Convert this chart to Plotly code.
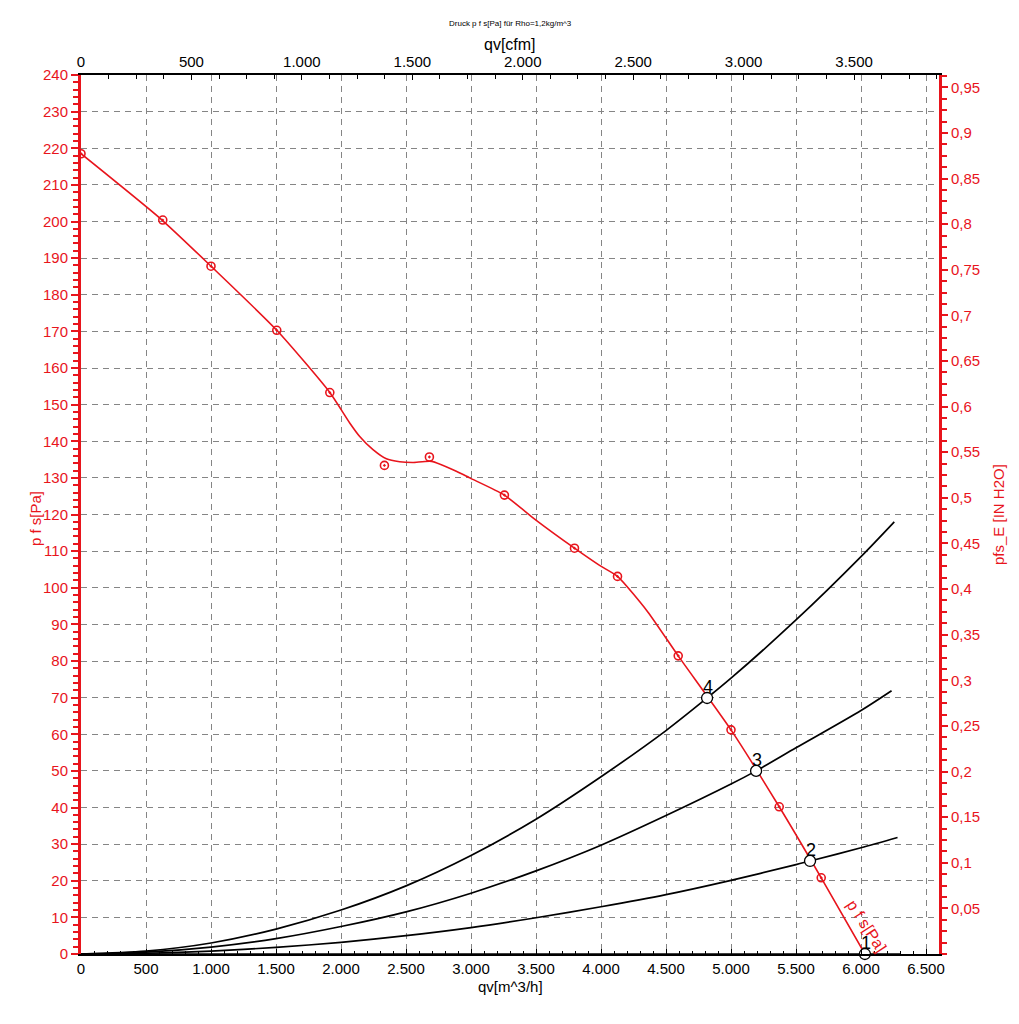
import plotly.graph_objects as go

# ---------------- data ----------------
# fan characteristic p_fs [Pa] vs qv [m^3/h] (line)
curve_q = [0, 623, 1000, 1506, 1914, 2067, 2144, 2246, 2349, 2451, 2550, 2697, 2887, 2990, 3257, 3502, 3796, 3989, 4127, 4360, 4594, 5000, 5371, 5694, 6030]
curve_p = [218.5, 200.4, 187.8, 170.3, 153.3, 145.0, 141.3, 137.7, 135.2, 134.4, 134.2, 134.5, 131.8, 130.0, 125.3, 118.4, 110.8, 106.1, 103.1, 93.4, 81.4, 61.2, 40.2, 20.8, 0.0]

# measured points on the fan curve
meas_q = [0, 629, 1000, 1506, 1914, 2334, 2680, 3257, 3796, 4127, 4594, 5000, 5371, 5694]
meas_p = [218.5, 200.4, 187.8, 170.3, 153.3, 133.4, 135.7, 125.3, 110.8, 103.1, 81.4, 61.2, 40.2, 20.8]

# system curves (black)
sys4_q = [0, 500, 1000, 1500, 2000, 2500, 3000, 3500, 4000, 4500, 4816, 5000, 5500, 6000, 6256]
sys4_p = [0, 0.8, 3.0, 6.8, 12.0, 18.6, 26.9, 36.8, 48.4, 61.0, 69.9, 75.3, 91.2, 108.5, 118.0]
sys3_q = [0, 500, 1000, 1500, 2000, 2500, 3000, 3500, 4000, 4500, 5000, 5193, 5500, 6000, 6235]
sys3_p = [0, 0.5, 1.9, 4.2, 7.5, 11.5, 16.6, 22.7, 29.7, 37.8, 46.4, 50.0, 56.3, 66.5, 71.9]
sys2_q = [0, 500, 1000, 1500, 2000, 2500, 3000, 3500, 4000, 4500, 5000, 5500, 5608, 6000, 6281]
sys2_p = [0, 0.2, 0.8, 1.8, 3.2, 5.0, 7.2, 9.9, 12.9, 16.2, 20.1, 24.4, 25.4, 29.0, 31.8]
sys1_q = [0, 6300]
sys1_p = [0, 0]

# operating points
op_q = [6030, 5608, 5193, 4816]
op_p = [0.0, 25.4, 50.0, 69.9]
op_lbl = ["1", "2", "3", "4"]

# axes
Q_MAX = 6600          # m^3/h
P_MAX = 240           # Pa
CFM_PER_M3H = 0.588578
INH2O_PER_PA = 0.0040146
right_vals = [0.05, 0.1, 0.15, 0.2, 0.25, 0.3, 0.35, 0.4, 0.45, 0.5, 0.55, 0.6, 0.65, 0.7, 0.75, 0.8, 0.85, 0.9, 0.95]
right_text = ["0,05", "0,1", "0,15", "0,2", "0,25", "0,3", "0,35", "0,4", "0,45", "0,5", "0,55", "0,6", "0,65", "0,7", "0,75", "0,8", "0,85", "0,9", "0,95"]

RED = "#e8141c"
FONT = "Liberation Sans, Arial, sans-serif"

fig = go.Figure()

for q, p in [(sys1_q, sys1_p), (sys2_q, sys2_p), (sys3_q, sys3_p), (sys4_q, sys4_p)]:
    fig.add_trace(go.Scatter(x=q, y=p, mode="lines", line=dict(color="black", width=1.7, shape="spline", smoothing=0.8),
                             hoverinfo="skip", showlegend=False))

fig.add_trace(go.Scatter(x=curve_q, y=curve_p, mode="lines",
                         line=dict(color=RED, width=1.6, shape="spline", smoothing=0.6),
                         showlegend=False))
fig.add_trace(go.Scatter(x=meas_q, y=meas_p, mode="markers",
                         marker=dict(symbol="circle-open-dot", size=8, color=RED, line=dict(width=1.6, color=RED)),
                         showlegend=False))

fig.add_trace(go.Scatter(x=op_q, y=op_p, mode="markers",
                         marker=dict(symbol="circle", size=11, color="white", line=dict(width=1.3, color="black")),
                         showlegend=False, cliponaxis=False))

# invisible trace to anchor secondary axes
fig.add_trace(go.Scatter(x=[q * CFM_PER_M3H for q in curve_q], y=[p * INH2O_PER_PA for p in curve_p],
                         xaxis="x2", yaxis="y2", mode="markers", marker=dict(opacity=0),
                         hoverinfo="skip", showlegend=False))

grid = dict(showgrid=True, gridcolor="#858585", gridwidth=1, griddash="6px,5px")

annotations = [
    dict(text="Druck p f s[Pa] für Rho=1,2kg/m^3", xref="paper", yref="paper", x=0.5, y=1, yshift=52,
         showarrow=False, font=dict(size=8, color="black"), xanchor="center", yanchor="middle"),
    dict(text="qv[cfm]", xref="paper", yref="paper", x=0.5, y=1, yshift=31,
         showarrow=False, font=dict(size=16, color="black"), xanchor="center", yanchor="middle"),
    dict(text="qv[m^3/h]", xref="paper", yref="paper", x=0.5, y=0, yshift=-32,
         showarrow=False, font=dict(size=15, color="black"), xanchor="center", yanchor="middle"),
    dict(text="p f s[Pa]", xref="paper", yref="paper", x=0, y=(954 - 519) / 879, xshift=-46,
         showarrow=False, textangle=-90, font=dict(size=15, color=RED), xanchor="center", yanchor="middle"),
    dict(text="pfs_E [IN H2O]", xref="paper", yref="paper", x=1, y=(954 - 515) / 879, xshift=59,
         showarrow=False, textangle=-90, font=dict(size=15, color=RED), xanchor="center", yanchor="middle"),
    dict(text="p f s[Pa]", xref="x", yref="y", x=6045, y=7.5, showarrow=False, textangle=57,
         font=dict(size=16, color=RED), xanchor="center", yanchor="middle"),
]
for q, p, t in zip(op_q, op_p, op_lbl):
    annotations.append(dict(text=t, xref="x", yref="y", x=q, y=p, yshift=11, xshift=1, showarrow=False,
                            font=dict(size=18, color="black"), xanchor="center", yanchor="middle"))

fig.update_layout(
    width=1019, height=1024,
    margin=dict(l=81, r=80, t=75, b=70),
    paper_bgcolor="white", plot_bgcolor="white",
    separators=",.",
    font=dict(family=FONT, size=15, color="black"),
    xaxis=dict(range=[0, Q_MAX], tick0=0, dtick=500, tickformat=",d", ticks="inside", ticklen=5,
               tickcolor="black", showline=True, linecolor="black", linewidth=2, zeroline=False,
               minor=dict(dtick=100, ticks="inside", ticklen=3, tickcolor="black", showgrid=False),
               tickfont=dict(size=15, color="black"), **grid),
    yaxis=dict(range=[0, P_MAX], tick0=0, dtick=10, ticks="outside", ticklen=7, tickwidth=2, tickcolor=RED,
               showline=True, linecolor=RED, linewidth=3, zeroline=False,
               minor=dict(dtick=2, ticks="outside", ticklen=5, tickwidth=2, tickcolor=RED, showgrid=False),
               tickfont=dict(size=15, color=RED), **grid),
    xaxis2=dict(overlaying="x", side="top", range=[0, Q_MAX * CFM_PER_M3H], tick0=0, dtick=500, tickformat=",d",
                ticks="inside", ticklen=5, tickcolor="black", showline=True, linecolor="black", linewidth=2,
                showgrid=False, zeroline=False,
                minor=dict(dtick=125, ticks="inside", ticklen=4, tickcolor="black", showgrid=False),
                tickfont=dict(size=15, color="black")),
    yaxis2=dict(overlaying="y", side="right", range=[0, P_MAX * INH2O_PER_PA], tickmode="array",
                tickvals=right_vals, ticktext=right_text, ticks="outside", ticklen=6, tickwidth=2, tickcolor=RED,
                showline=True, linecolor=RED, linewidth=3, showgrid=False, zeroline=False,
                minor=dict(dtick=0.0125, ticks="outside", ticklen=5, tickwidth=2, tickcolor=RED, showgrid=False),
                tickfont=dict(size=15, color=RED)),
    annotations=annotations,
)

fig.write_html("out.html")
